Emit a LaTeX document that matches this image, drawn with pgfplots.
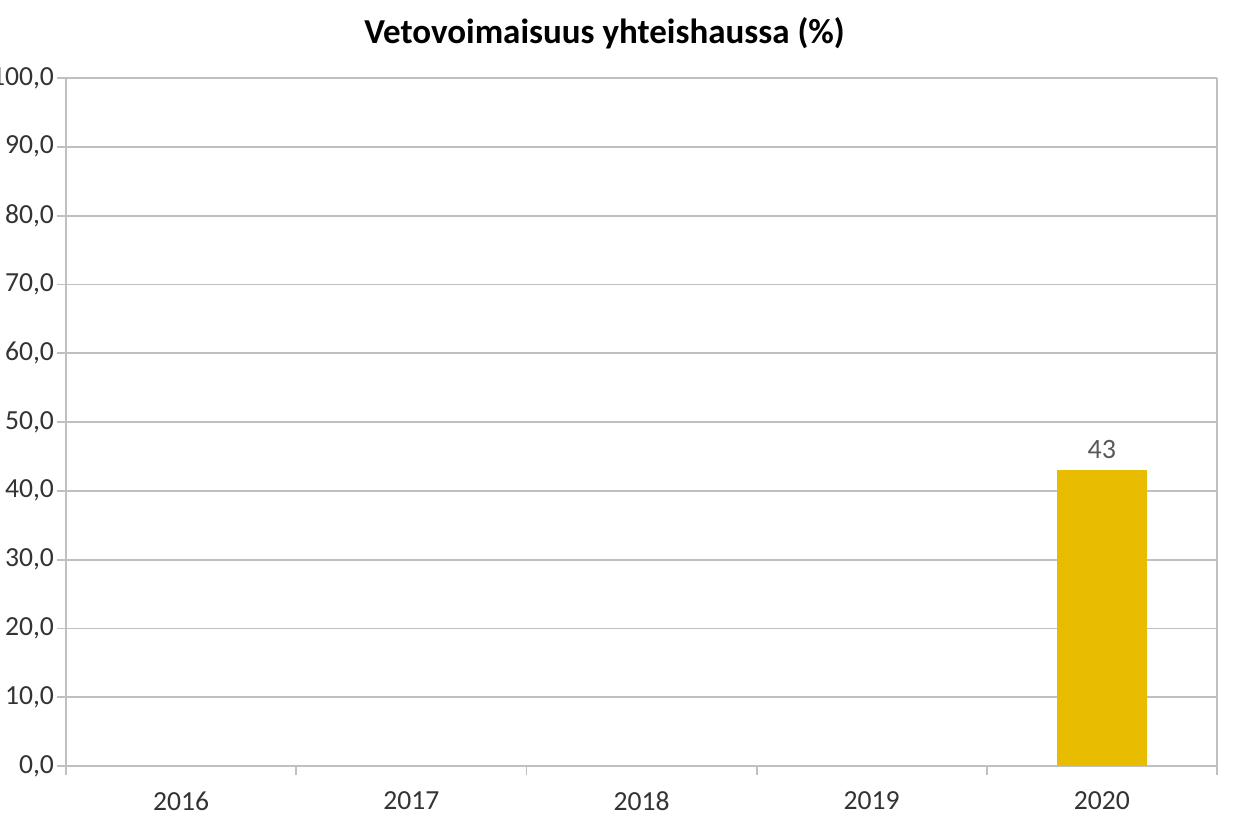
\documentclass[border=0pt]{standalone}
\usepackage{pgfplots}
\pgfplotsset{compat=1.18}
\usepackage{fontspec}
\setmainfont{Carlito}
\definecolor{gridgray}{RGB}{192,192,192}
\definecolor{bargold}{RGB}{232,188,0}
\definecolor{labgray}{RGB}{89,89,89}
\begin{document}
\begin{tikzpicture}
\path[use as bounding box] (0,0) rectangle (617pt,410.5pt);
\begin{scope}
\clip (0,0) rectangle (617pt,410.5pt);
\begin{axis}[
  at={(33pt,27.5pt)}, anchor=south west,
  scale only axis, width=575.5pt, height=344pt,
  xmin=-0.5, xmax=4.5, ymin=0, ymax=100,
  ytick={0,10,...,100},
  xtick={0,1,2,3,4},
  xticklabels={2016,2017,2018,2019,2020},
  minor xtick={-0.5,0.5,1.5,2.5,3.5,4.5},
  major x tick style={draw=none},
  minor tick length=4.5pt,
  major tick length=4.5pt,
  tick align=outside,
  tick style={gridgray, line width=0.9pt},
  ymajorgrids, grid style={gridgray, line width=0.9pt},
  axis line style={gridgray, line width=0.9pt},
  axis x line*=bottom, axis y line*=left,
  separate axis lines,
  extra description/.code={\draw[gridgray, line width=0.9pt] (1,0) -- (1,1);},
  yticklabel style={font=\fontsize{13.8}{15}\selectfont, text=black!80, anchor=east, xshift=2pt},
  xticklabel style={font=\fontsize{13.8}{15}\selectfont, text=black!80, yshift=-5pt},
  /pgf/number format/.cd, fixed, fixed zerofill, precision=1, use comma,
  assume math mode=true,
  /pgfplots/.cd,
  yticklabel={\pgfmathprintnumber{\tick}},
  title={\bfseries Vetovoimaisuus yhteishaussa (\%)},
  title style={font=\fontsize{17.5}{20}\selectfont\bfseries, yshift=5pt, xshift=-18.5pt},
  ybar, bar width=45pt,
  nodes near coords,
  nodes near coords style={font=\fontsize{14}{16}\selectfont, text=labgray, yshift=2pt,
    /pgf/number format/.cd, fixed, precision=0},
]
\addplot[fill=bargold, draw=none] coordinates {(4,43)};
\end{axis}
\end{scope}
\end{tikzpicture}
\end{document}
